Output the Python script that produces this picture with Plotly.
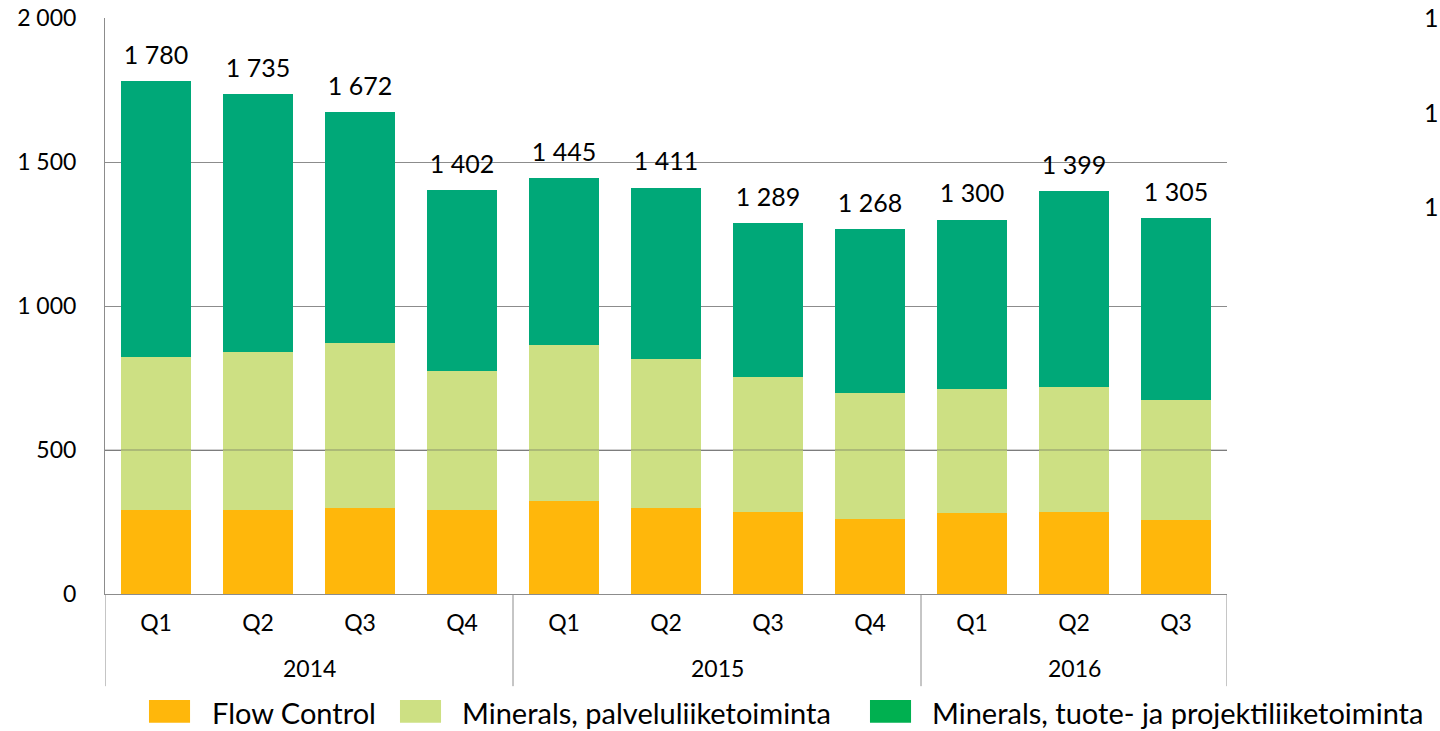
import plotly.graph_objects as go

years = ['2014', '2015', '2016']
quarters = ['Q1', 'Q2', 'Q3', 'Q4', 'Q1', 'Q2', 'Q3', 'Q4', 'Q1', 'Q2', 'Q3']
year_of_bar = ['2014'] * 4 + ['2015'] * 4 + ['2016'] * 3

flow_control = [292, 292, 300, 292, 323, 300, 286, 260, 281, 286, 256]
minerals_palvelu = [530, 548, 572, 481, 542, 515, 467, 439, 430, 432, 418]
minerals_tuote = [958, 895, 800, 629, 580, 596, 536, 569, 589, 681, 631]
totals = [1780, 1735, 1672, 1402, 1445, 1411, 1289, 1268, 1300, 1399, 1305]

series_names = ['Flow Control', 'Minerals, palveluliiketoiminta',
                'Minerals, tuote- ja projektiliiketoiminta']
bar_colors = ['#FFB70B', '#CDE083', '#00A878']
legend_colors = ['#FFB70B', '#CDE083', '#00B050']

FONT = 'Lato'
GRID = '#8C8C8C'
cats = [f'{y} {q}' for y, q in zip(year_of_bar, quarters)]

fig = go.Figure()
for name, vals, col in zip(series_names, [flow_control, minerals_palvelu, minerals_tuote], bar_colors):
    fig.add_trace(go.Bar(x=cats, y=vals, name=name, marker=dict(color=col, line=dict(width=0)),
                         showlegend=False))

# total labels above the stacks
fig.add_trace(go.Scatter(x=cats, y=totals, mode='markers+text',
                         text=[f'{v:,}'.replace(',', ' ') for v in totals],
                         textposition='top center',
                         marker=dict(size=16, opacity=0),
                         textfont=dict(size=25, color='black', family=FONT),
                         showlegend=False, hoverinfo='skip'))

fig.update_layout(
    barmode='stack', bargap=0.32,
    width=1440, height=731,
    margin=dict(l=105, r=213, t=18, b=137, autoexpand=False),
    plot_bgcolor='white', paper_bgcolor='white',
    separators=', ',
    font=dict(family=FONT, size=23, color='black'),
)
fig.update_yaxes(range=[0, 2000], dtick=500, tickformat=',d', automargin=False,
                 showgrid=True, gridcolor=GRID, gridwidth=1,
                 showline=True, linecolor=GRID, linewidth=1,
                 zeroline=False, ticks='', ticklabelstandoff=23,
                 tickfont=dict(size=23, family=FONT))
fig.update_xaxes(type='category', range=[-0.5, len(cats) - 0.5], automargin=False,
                 tickvals=cats, ticktext=quarters,
                 showline=True, linecolor=GRID, linewidth=1,
                 ticks='', ticklabelstandoff=8, tickfont=dict(size=23, family=FONT))

# 500 gridline shows through the bars in the reference
fig.add_shape(type='line', xref='paper', yref='y', x0=0, x1=1, y0=500, y1=500,
              line=dict(color='rgba(90,90,90,0.55)', width=1), layer='above')

# year groups: labels and divider lines below the axis
start = 0
for yr in years:
    n = year_of_bar.count(yr)
    fig.add_annotation(xref='x', yref='paper', x=start + (n - 1) / 2, y=-0.1285, text=yr,
                       showarrow=False, yanchor='middle', font=dict(size=23, family=FONT))
    start += n
bounds = [-0.5] + [sum(year_of_bar.count(y) for y in years[:i + 1]) - 0.5 for i in range(len(years))]
for b in bounds:
    fig.add_shape(type='line', xref='x', yref='paper', x0=b, x1=b, y0=0, y1=-0.16,
                  line=dict(color=GRID, width=1))

# hand-drawn legend below the chart
sw = [(0.0392, 0.0758, 0.0936), (0.2629, 0.2995, 0.3164), (0.6818, 0.7184, 0.7353)]
for (x0, x1, tx), name, col in zip(sw, series_names, legend_colors):
    fig.add_shape(type='rect', xref='paper', yref='paper', x0=x0, x1=x1, y0=-0.2234, y1=-0.184,
                  fillcolor=col, line=dict(width=0))
    fig.add_annotation(xref='paper', yref='paper', x=tx, y=-0.205, text=name, showarrow=False,
                       xanchor='left', yanchor='middle', font=dict(size=29, family=FONT))

# clipped labels at the right edge
for yy in [1.0009, 0.836, 0.6736]:
    fig.add_annotation(xref='paper', yref='paper', x=1.1738, y=yy, text='1', showarrow=False,
                       xanchor='left', yanchor='middle', font=dict(size=25, family=FONT))

fig.write_html('out.html', config={'displayModeBar': False},
               post_script="document.body.style.margin='0';")
